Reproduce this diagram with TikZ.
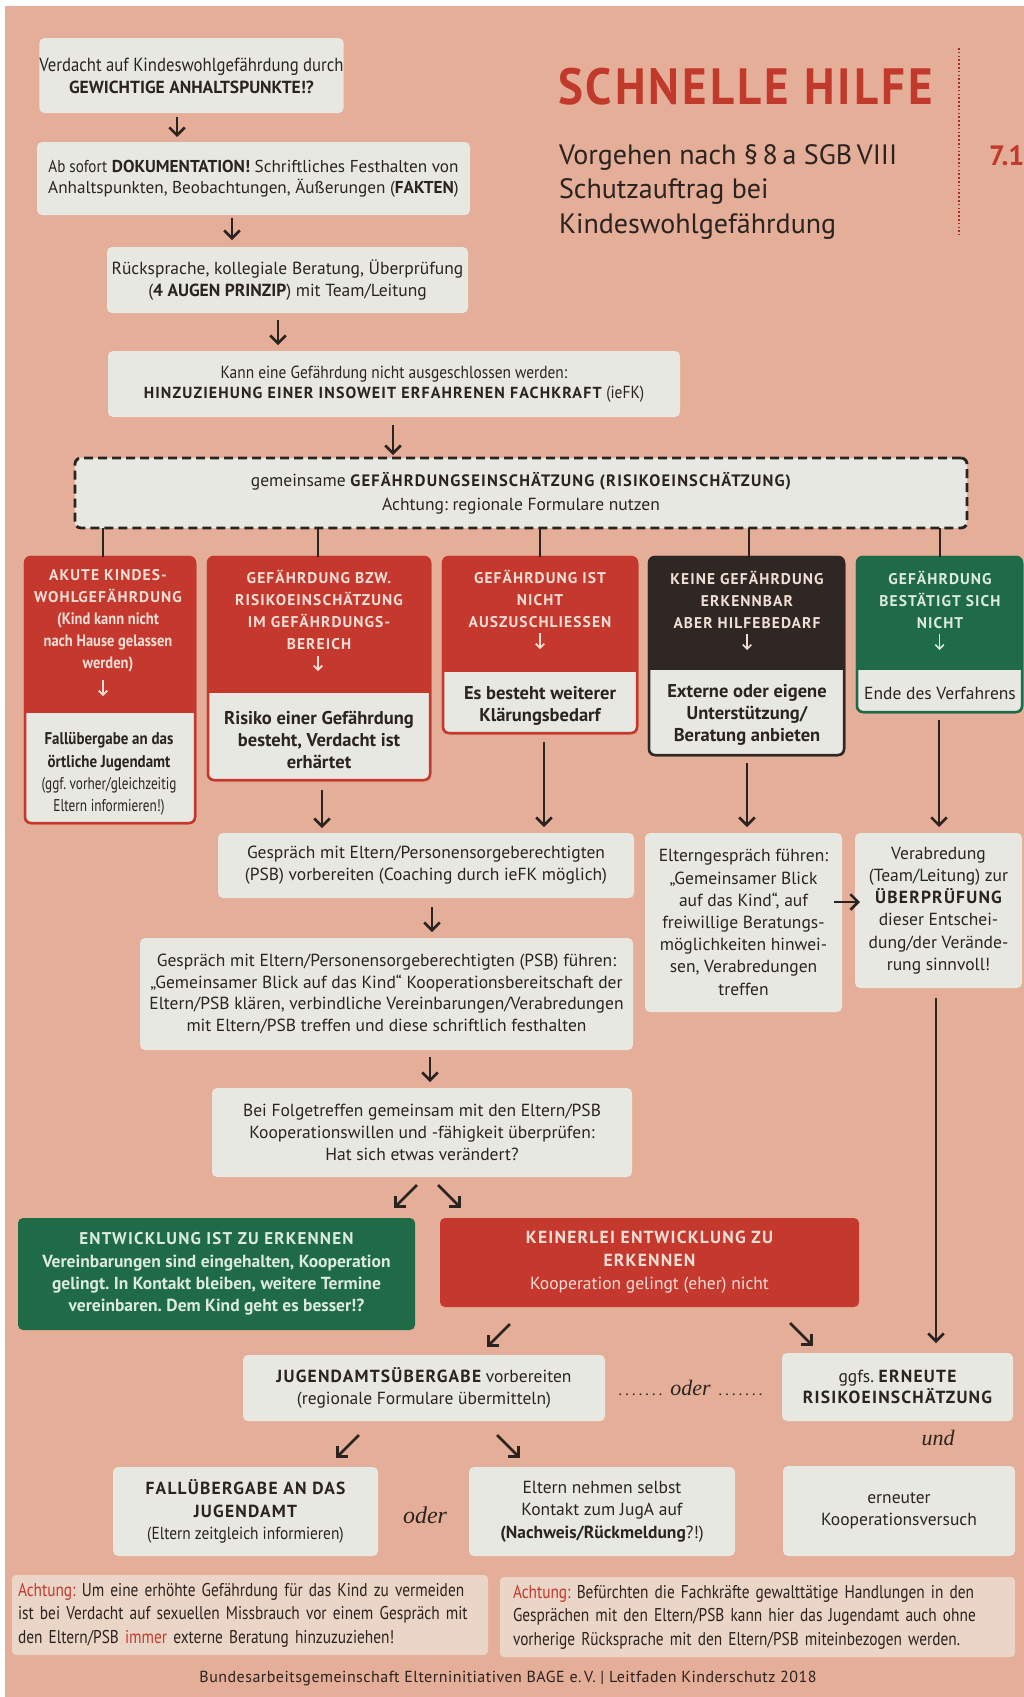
\documentclass[tikz,border=0pt]{standalone}
\usepackage{fontspec}
\setmainfont{PT Sans}
\newfontfamily\nar[FakeStretch=0.88]{PT Sans}
\newfontfamily\anar[FakeStretch=0.83]{PT Sans}
\newfontfamily\vnar[FakeStretch=0.78]{PT Sans}
\newfontfamily\spc[LetterSpace=7]{PT Sans}
\newfontfamily\spcs[LetterSpace=3]{PT Sans}
\newfontfamily\titf[LetterSpace=6,FakeStretch=0.92]{PT Sans}
\newfontfamily\dotf[LetterSpace=14]{PT Sans}
\newfontfamily\serit{Liberation Serif}
\usetikzlibrary{arrows.meta}
\definecolor{bg}{HTML}{E4AE98}
\definecolor{boxw}{HTML}{E8E8E2}
\definecolor{ink}{HTML}{2B2320}
\definecolor{rd}{HTML}{C4382E}
\definecolor{dk}{HTML}{2E2724}
\definecolor{gr}{HTML}{1F6B47}
\definecolor{hw}{HTML}{F3DED6}
\definecolor{gw}{HTML}{DCEADF}
\definecolor{ab}{HTML}{EAD5C6}
\definecolor{titred}{HTML}{C0392B}
\newcommand\fs[2]{\fontsize{#1}{#2}\selectfont}
\newcommand\bx[7]{\node[#6, minimum width={(#4-#2)*1pt}, minimum height={(#5-#3)*1pt}] (#1) at ({(#2+#4)/2},{(#3+#5)/2}) {#7};}
\tikzset{
  every node/.style={inner sep=0pt, outer sep=0pt},
  wbox/.style={fill=boxw, rounded corners=5pt, text=ink, align=center, font=\fs{17.5}{21.7}},
  cat/.style={fill=#1, draw=#1, line width=2.5pt, rounded corners=6pt},
  catrim/.style={draw=#1, line width=2.5pt, rounded corners=6pt},
  bodyw/.style={fill=boxw},
  hdr/.style={text=#1, align=center, font=\spc\bfseries\fs{15.5}{22}},
  btxt/.style={text=ink, align=center, font=\bfseries\fs{18.5}{22}},
  harr/.style={draw=#1, line width=1.6pt, -{Straight Barb[angle=90:6pt]}},
  arr/.style={draw=ink, line width=2.6pt, -{Straight Barb[angle=90:11pt]}},
  conn/.style={draw=ink, line width=2.8pt},
  dbox/.style={fill=boxw, draw=ink, line width=2.8pt, dash pattern=on 9pt off 5pt, rounded corners=6pt, text=ink, align=center},
  gbox/.style={fill=gr, rounded corners=5pt, text=gw, align=center, font=\bfseries\fs{17.5}{22.3}},
  rbox/.style={fill=rd, rounded corners=5pt, text=hw, align=center, font=\fs{17.5}{23}},
  abox/.style={fill=ab, rounded corners=4pt, text=ink, align=left, font=\anar\fs{18.5}{23.5}}
}
\begin{document}
\frenchspacing
\begin{tikzpicture}[x=1pt,y=-1pt]
\useasboundingbox (0,0) rectangle (1024,1697);
\fill[white] (0,0) rectangle (1024,1697);
\fill[bg] (5,6) rectangle (1024,1697);

% title
\node[anchor=base west, text=titred, font=\titf\bfseries\fs{51}{60}] (title) at (558,104) {SCHNELLE HILFE};
\node[anchor=base west, align=left, text=ink, font=\fs{28}{34.5}] (sub) at (559,233) {Vorgehen nach §\,8\,a SGB\,VIII\\Schutzauftrag bei\\Kindeswohlgefährdung};
\draw[titred!85!black, line width=1.6pt, dash pattern=on 1.6pt off 2.2pt] (959,48) -- (959,235);
\node[anchor=base west, text=titred, font=\bfseries\fs{28}{34}] (sec) at (989,165) {7.1};

% top chain
\bx{b1}{40}{38}{343}{113}{wbox, font=\fs{17.5}{22}}{{\nar\fs{19}{22}Verdacht auf Kindeswohlgefährdung durch}\\{\bfseries GEWICHTIGE ANHALTSPUNKTE!?}}
\bx{b2}{37}{142}{470}{215}{wbox, font=\fs{17.2}{20.5}}{{\nar Ab sofort} \textbf{DOKUMENTATION!} Schriftliches Festhalten von\\Anhaltspunkten, Beobachtungen, Äußerungen (\textbf{FAKTEN})}
\bx{b3}{107}{247}{468}{313}{wbox, font=\fs{17.5}{22}}{Rücksprache, kollegiale Beratung, Überprüfung\\(\textbf{4 AUGEN PRINZIP}) mit Team/Leitung}
\bx{b4}{108}{351}{680}{417}{wbox, font=\fs{17.5}{20}}{{\nar Kann eine Gefährdung nicht ausgeschlossen werden:}\\{\spc\bfseries\fs{16}{20}HINZUZIEHUNG EINER INSOWEIT ERFAHRENEN FACHKRAFT} {\nar(ieFK)}}
\bx{gef}{75}{458}{967}{528}{dbox, font=\fs{17.5}{24}}{gemeinsame {\spc\bfseries\fs{16.5}{24}GEFÄHRDUNGSEINSCHÄTZUNG (RISIKOEINSCHÄTZUNG)}\\Achtung: regionale Formulare nutzen}

\draw[arr, shorten <=4pt, shorten >=5pt] ([xshift=-14.5pt]b1.south) -- ([xshift=-14.5pt]b1.south |- b2.north);
\draw[arr, shorten <=3pt, shorten >=7pt] ([xshift=-21.5pt]b2.south) -- ([xshift=-21.5pt]b2.south |- b3.north);
\draw[arr, shorten <=7pt, shorten >=6pt] ([xshift=-9.5pt]b3.south) -- ([xshift=-9.5pt]b3.south |- b4.north);
\draw[arr, shorten <=8pt, shorten >=3pt] ([xshift=-1pt]b4.south) -- ([xshift=-1pt]b4.south |- gef.north);

% category boxes
\bx{c1}{25}{557}{195}{823}{cat=rd}{}
\bx{c2}{208}{557}{430}{780}{cat=rd}{}
\bx{c3}{443}{557}{637}{733}{cat=rd}{}
\bx{c4}{649}{557}{844}{755}{cat=dk}{}
\bx{c5}{857}{557}{1022}{712}{cat=gr}{}
\bx{c1b}{26.25}{713}{193.75}{821.75}{bodyw}{}
\bx{c2b}{209.25}{693}{428.75}{778.75}{bodyw}{}
\bx{c3b}{444.25}{672}{635.75}{731.75}{bodyw}{}
\bx{c4b}{650.25}{670}{842.75}{753.75}{bodyw}{}
\bx{c5b}{858.25}{670}{1020.75}{710.75}{bodyw}{}
\draw[catrim=rd] (c1.north west) rectangle (c1.south east);
\draw[catrim=rd] (c2.north west) rectangle (c2.south east);
\draw[catrim=rd] (c3.north west) rectangle (c3.south east);
\draw[catrim=dk] (c4.north west) rectangle (c4.south east);
\draw[catrim=gr] (c5.north west) rectangle (c5.south east);

\node[hdr=hw] (c1h) at (108,621) {AKUTE KINDES-\\WOHLGEFÄHRDUNG\\{\nar\fs{16.5}{22}(Kind kann nicht}\\{\nar\fs{16.5}{22}nach Hause gelassen}\\{\nar\fs{16.5}{22}werden)}};
\node[hdr=hw] (c2h) at (319,610) {GEFÄHRDUNG BZW.\\RISIKOEINSCHÄTZUNG\\IM GEFÄHRDUNGS-\\BEREICH};
\node[hdr=hw] (c3h) at (540,598.5) {GEFÄHRDUNG IST\\NICHT\\AUSZUSCHLIESSEN};
\node[hdr=hw] (c4h) at (747,599.5) {KEINE GEFÄHRDUNG\\ERKENNBAR\\ABER HILFEBEDARF};
\node[hdr=gw] (c5h) at (940,599.5) {GEFÄHRDUNG\\BESTÄTIGT SICH\\NICHT};
\draw[harr=hw] ([xshift=-7pt,yshift=-123pt]c1.north) -- ++(0,16);
\draw[harr=hw] ([xshift=-1pt,yshift=-99pt]c2.north) -- ++(0,15);
\draw[harr=hw] ([yshift=-76pt]c3.north) -- ++(0,16);
\draw[harr=hw] ([xshift=0.5pt,yshift=-77pt]c4.north) -- ++(0,16);
\draw[harr=gw] ([yshift=-77pt]c5.north) -- ++(0,16);

\node[btxt, font=\fs{17}{22.3}] (c1t) at (109,774) {{\nar\bfseries Fallübergabe an das}\\{\nar\bfseries örtliche Jugendamt}\\{\vnar (ggf. vorher/gleichzeitig}\\{\vnar Eltern informieren!)}};
\node[btxt] (c2t) at (319,740) {Risiko einer Gefährdung\\besteht, Verdacht ist\\erhärtet};
\node[btxt] (c3t) at (540,706) {Es besteht weiterer\\Klärungsbedarf};
\node[btxt] (c4t) at (747,715) {Externe oder eigene\\Unterstützung/\\Beratung anbieten};
\node[btxt, font=\fs{17.5}{22}] (c5t) at (940,693) {Ende des Verfahrens};

\draw[conn] ([xshift=-7pt]c1.north) -- ([xshift=-7pt]c1.north |- gef.south);
\draw[conn] ([xshift=-1pt]c2.north) -- ([xshift=-1pt]c2.north |- gef.south);
\draw[conn] (c3.north) -- (c3.north |- gef.south);
\draw[conn] ([xshift=2.5pt]c4.north) -- ([xshift=2.5pt]c4.north |- gef.south);
\draw[conn] ([xshift=0.5pt]c5.north) -- ([xshift=0.5pt]c5.north |- gef.south);

% middle
\bx{prep}{218}{833}{634}{898}{wbox}{Gespräch mit Eltern/Personensorgeberechtigten\\(PSB) vorbereiten (Coaching durch ieFK möglich)}
\bx{elt}{645}{833}{842}{1012}{wbox, font=\fs{17.5}{22.2}}{Elterngespräch führen:\\„Gemeinsamer Blick\\auf das Kind“, auf\\freiwillige Beratungs-\\möglichkeiten hinwei-\\sen, Verabredungen\\treffen}
\bx{ver}{855}{833}{1022}{988}{wbox, font=\fs{17.5}{22.2}}{Verabredung\\(Team/Leitung) zur\\{\spc\bfseries ÜBERPRÜFUNG}\\dieser Entschei-\\dung/der Verände-\\rung sinnvoll!}
\bx{talk}{140}{938}{633}{1050}{wbox}{Gespräch mit Eltern/Personensorgeberechtigten (PSB) führen:\\„Gemeinsamer Blick auf das Kind“ Kooperationsbereitschaft der\\Eltern/PSB klären, verbindliche Vereinbarungen/Verabredungen\\mit Eltern/PSB treffen und diese schriftlich festhalten}
\bx{fol}{212}{1088}{632}{1177}{wbox}{Bei Folgetreffen gemeinsam mit den Eltern/PSB\\Kooperationswillen und -fähigkeit überprüfen:\\Hat sich etwas verändert?}

\draw[arr, shorten <=10pt, shorten >=5pt] ([xshift=3pt]c2.south) -- ([xshift=3pt]c2.south |- prep.north);
\draw[arr, shorten <=9pt, shorten >=6pt] ([xshift=4pt]c3.south) -- ([xshift=4pt]c3.south |- prep.north);
\draw[arr, shorten <=8pt, shorten >=6pt] ([xshift=0.5pt]c4.south) -- ([xshift=0.5pt]c4.south |- elt.north);
\draw[arr, shorten <=8pt, shorten >=6pt] ([xshift=-0.5pt]c5.south) -- ([xshift=-0.5pt]c5.south |- ver.north);
\draw[arr, shorten <=-8pt, shorten >=-5pt] ([yshift=20.5pt]elt.east) -- ([yshift=20.5pt]elt.east -| ver.west);
\draw[arr, shorten <=9pt, shorten >=6pt] ([xshift=6pt]prep.south) -- ([xshift=6pt]prep.south |- talk.north);
\draw[arr, shorten <=7pt, shorten >=6pt] ([xshift=43.5pt]talk.south) -- ([xshift=43.5pt]talk.south |- fol.north);

% lower
\bx{ent}{18}{1218}{415}{1330}{gbox}{{\spc\fs{17}{22.3}ENTWICKLUNG IST ZU ERKENNEN}\\Vereinbarungen sind eingehalten, Kooperation\\gelingt. In Kontakt bleiben, weitere Termine\\vereinbaren. Dem Kind geht es besser!?}
\bx{kei}{440}{1218}{859}{1307}{rbox}{{\spc\bfseries KEINERLEI ENTWICKLUNG ZU}\\{\spc\bfseries ERKENNEN}\\Kooperation gelingt (eher) nicht}
\bx{ja}{243}{1355}{605}{1421}{wbox, font=\fs{17.5}{22}}{{\spc\bfseries JUGENDAMTSÜBERGABE} vorbereiten\\(regionale Formulare übermitteln)}
\bx{ggf}{782}{1353}{1013}{1421}{wbox, font=\fs{17.5}{21.5}}{ggfs. {\spc\bfseries ERNEUTE}\\{\spc\bfseries RISIKOEINSCHÄTZUNG}}
\node[text=ink] (oder1) at (690.5,1388) {{\dotf\fs{16}{20}.......}\hspace{8pt}{\serit\itshape\fs{22}{26}oder}\hspace{8pt}{\dotf\fs{16}{20}.......}};
\node[text=ink, font=\serit\itshape\fs{22}{26}] (und) at (938,1438) {und};
\bx{fall}{113}{1467}{378}{1556}{wbox, font=\fs{17.5}{22.5}}{{\spc\bfseries FALLÜBERGABE AN DAS}\\{\spc\bfseries JUGENDAMT}\\{\nar (Eltern zeitgleich informieren)}}
\node[text=ink, font=\serit\itshape\fs{24}{28}] (oder2) at (425,1515) {oder};
\bx{selbst}{469}{1467}{735}{1556}{wbox, font=\fs{17.5}{22.5}}{Eltern nehmen selbst\\Kontakt zum JugA auf\\\textbf{(Nachweis/Rückmeldung}?!)}
\bx{koop}{783}{1466}{1015}{1556}{wbox, font=\fs{17.5}{22}}{erneuter\\Kooperationsversuch}

\coordinate (d1a) at (417,1185); \coordinate (d1b) at (394,1208);
\coordinate (d2a) at (438,1185); \coordinate (d2b) at (461,1208);
\coordinate (d3a) at (510,1324); \coordinate (d3b) at (487,1347);
\coordinate (d4a) at (790,1323); \coordinate (d4b) at (813,1346);
\coordinate (d5a) at (359,1435); \coordinate (d5b) at (336,1458);
\coordinate (d6a) at (497,1435); \coordinate (d6b) at (520,1458);
\draw[arr] (d1a) -- (d1b);
\draw[arr] (d2a) -- (d2b);
\draw[arr] (d3a) -- (d3b);
\draw[arr] (d4a) -- (d4b);
\draw[arr] (d5a) -- (d5b);
\draw[arr] (d6a) -- (d6b);
\draw[arr, shorten <=10pt, shorten >=10pt] ([xshift=-2.5pt]ver.south) -- ([xshift=-2.5pt]ver.south |- ggf.north);

% notes
\bx{ach1}{12}{1575}{488}{1655}{abox, inner xsep=6pt, text width={464pt}}{{\color{rd}Achtung:} Um eine erhöhte Gefährdung für das Kind zu vermeiden\\ist bei Verdacht auf sexuellen Missbrauch vor einem Gespräch mit\\den Eltern/PSB {\color{rd}immer} externe Beratung hinzuzuziehen!}
\bx{ach2}{500}{1577}{1015}{1657}{abox, inner xsep=13pt, text width={489pt}}{{\color{rd}Achtung:} Befürchten die Fachkräfte gewalttätige Handlungen in den\\Gesprächen mit den Eltern/PSB kann hier das Jugendamt auch ohne\\vorherige Rücksprache mit den Eltern/PSB miteinbezogen werden.}
\node[text=ink, font=\spcs\fs{16}{20}] (foot) at (508,1678) {Bundesarbeitsgemeinschaft Elterninitiativen BAGE e.\,V. | Leitfaden Kinderschutz 2018};
\end{tikzpicture}
\end{document}
